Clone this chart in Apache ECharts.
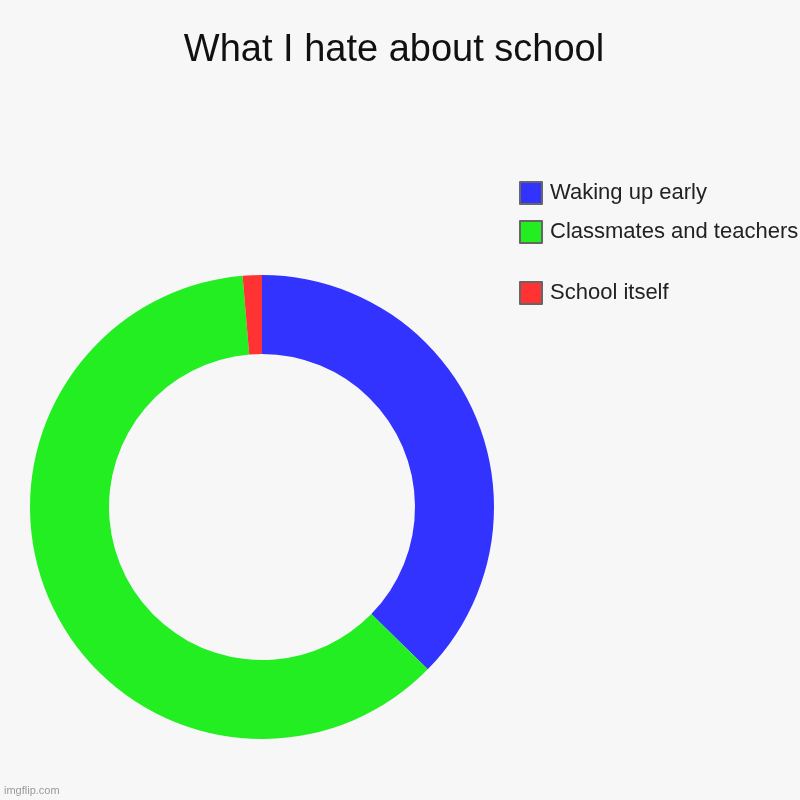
<!DOCTYPE html>
<html>
<head>
<meta charset="utf-8">
<script src="https://cdn.jsdelivr.net/npm/echarts@6/dist/echarts.min.js"></script>
<style>
  html, body { margin: 0; padding: 0; background: #f7f7f7; }
  #chart { width: 800px; height: 800px; }
</style>
</head>
<body>
<div id="chart"></div>
<script>
var categories = ['Waking up early', 'Classmates and teachers', 'School itself']
var values = [28, 46, 1]
var colors = ['#3333ff', '#22ee22', '#ff3333']

var chart = echarts.init(document.getElementById('chart'))

var legendText = { fontFamily: 'Liberation Sans, Arial', fontSize: 22, color: '#222', padding: [0, 0, 0, 3] }
var legendIcon = { borderColor: '#666', borderWidth: 2 }

var options = {
    backgroundColor: '#f7f7f7',
    animation: false,
    title: {
        text: 'What I hate about school',
        left: 389,
        textAlign: 'center',
        top: 27,
        textStyle: { fontFamily: 'Liberation Sans, Arial', fontSize: 38, fontWeight: 'normal', color: '#111' }
    },
    // two legends to keep the gap before the last item
    legend: [{
        data: categories.slice(0, 2),
        orient: 'vertical',
        left: 519,
        top: 181,
        icon: 'rect',
        itemWidth: 22,
        itemHeight: 22,
        itemGap: 15,
        padding: 0,
        itemStyle: legendIcon,
        textStyle: legendText
    }, {
        data: categories.slice(2),
        orient: 'vertical',
        left: 519,
        top: 281,
        icon: 'rect',
        itemWidth: 22,
        itemHeight: 22,
        padding: 0,
        itemStyle: legendIcon,
        textStyle: legendText
    }],
    graphic: [{
        type: 'text',
        left: 4,
        top: 785,
        style: { text: 'imgflip.com', fontFamily: 'Liberation Sans, Arial', fontSize: 11, fill: '#9a9a9a' }
    }],
    series: [{
        type: 'pie',
        center: [262, 507],
        radius: [153, 232],
        startAngle: 90,
        clockwise: true,
        label: { show: false },
        labelLine: { show: false },
        emphasis: { disabled: true },
        data: categories.map(function(name, i) {
            return { name: name, value: values[i], itemStyle: { color: colors[i] } }
        })
    }]
}

chart.setOption(options)
</script>
</body>
</html>
